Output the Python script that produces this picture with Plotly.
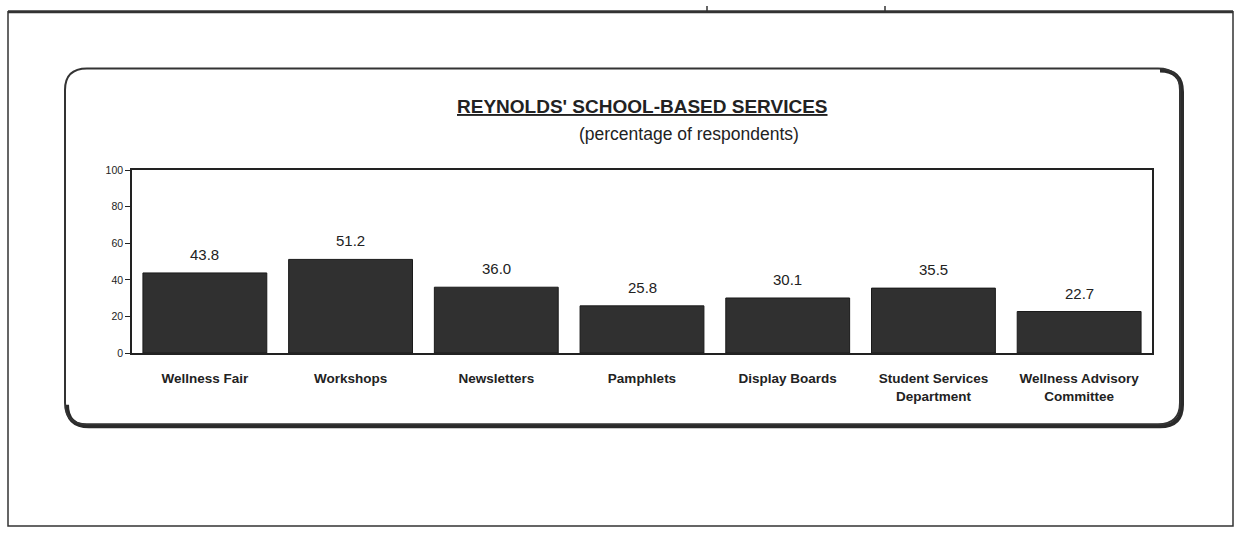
import plotly.graph_objects as go

# Survey results
categories = ["Wellness Fair", "Workshops", "Newsletters", "Pamphlets",
              "Display Boards", "Student Services<br>Department",
              "Wellness Advisory<br>Committee"]
values = [43.8, 51.2, 36.0, 25.8, 30.1, 35.5, 22.7]
y_ticks = [0, 20, 40, 60, 80, 100]

W, H = 1238, 533
FONT = "Arial, Liberation Sans, sans-serif"


def px(x):
    return x / W


def py(y):
    return 1 - y / H


def rounded_rect(x0, y0, x1, y1, r):
    pts = [
        f"M {px(x0 + r)},{py(y0)}",
        f"L {px(x1 - r)},{py(y0)}",
        f"Q {px(x1)},{py(y0)} {px(x1)},{py(y0 + r)}",
        f"L {px(x1)},{py(y1 - r)}",
        f"Q {px(x1)},{py(y1)} {px(x1 - r)},{py(y1)}",
        f"L {px(x0 + r)},{py(y1)}",
        f"Q {px(x0)},{py(y1)} {px(x0)},{py(y1 - r)}",
        f"L {px(x0)},{py(y0 + r)}",
        f"Q {px(x0)},{py(y0)} {px(x0 + r)},{py(y0)}",
        "Z",
    ]
    return " ".join(pts)


def shadow_edge(x0, y0, x1, y1, r, d):
    # right and bottom sides of the panel, shifted to form a drop shadow
    x0, y0, x1, y1 = x0 + d, y0 + d, x1 + d, y1 + d
    pts = [
        f"M {px(x1 - r)},{py(y0)}",
        f"Q {px(x1)},{py(y0)} {px(x1)},{py(y0 + r)}",
        f"L {px(x1)},{py(y1 - r)}",
        f"Q {px(x1)},{py(y1)} {px(x1 - r)},{py(y1)}",
        f"L {px(x0 + r)},{py(y1)}",
        f"Q {px(x0)},{py(y1)} {px(x0)},{py(y1 - r)}",
    ]
    return " ".join(pts)


fig = go.Figure()
fig.add_trace(go.Bar(
    x=categories, y=values,
    marker=dict(color="#303030", line=dict(color="#1a1a1a", width=1)),
    width=0.85, hoverinfo="x+y",
))

annotations = [
    dict(x=c, y=v, xref="x", yref="y", text=f"{v:.1f}", showarrow=False,
         yanchor="bottom", yshift=8, font=dict(family=FONT, size=15, color="#222"))
    for c, v in zip(categories, values)
]
annotations += [
    dict(x=px(642), y=py(103), xref="paper", yref="paper",
         xanchor="center", yanchor="middle",
         text="<b><u>REYNOLDS' SCHOOL-BASED SERVICES</u></b>", showarrow=False,
         font=dict(family=FONT, size=19, color="#222")),
    dict(x=px(689), y=py(131), xref="paper", yref="paper",
         xanchor="center", yanchor="middle",
         text="(percentage of respondents)", showarrow=False,
         font=dict(family=FONT, size=17.5, color="#222")),
]

shapes = [
    # outer page frame
    dict(type="rect", xref="paper", yref="paper", x0=px(8), x1=px(1233),
         y0=py(532), y1=py(6), line=dict(color="#333", width=1.5)),
    dict(type="line", xref="paper", yref="paper", x0=px(8), x1=px(1233),
         y0=py(6), y1=py(6), line=dict(color="#333", width=3)),
    dict(type="line", xref="paper", yref="paper", x0=px(707), x1=px(707),
         y0=py(0), y1=py(6), line=dict(color="#333", width=1.5)),
    dict(type="line", xref="paper", yref="paper", x0=px(885), x1=px(885),
         y0=py(0), y1=py(6), line=dict(color="#333", width=1.5)),
    # rounded panel with drop shadow
    dict(type="path", xref="paper", yref="paper",
         path=shadow_edge(65, 64, 1180, 428, 22, 2), line=dict(color="#2a2a2a", width=4)),
    dict(type="path", xref="paper", yref="paper",
         path=rounded_rect(65, 64, 1180, 428, 22), line=dict(color="#333", width=2)),
]

fig.update_layout(
    width=W, height=H,
    margin=dict(l=0, r=0, t=0, b=0),
    paper_bgcolor="white", plot_bgcolor="white",
    showlegend=False, bargap=0.15,
    annotations=annotations, shapes=shapes,
    xaxis=dict(domain=[px(132), px(1152)], showline=True, linecolor="#222",
               linewidth=1.5, mirror=True, ticks="", ticklabelstandoff=12,
               tickfont=dict(family=FONT, size=13.5, color="#222"),
               tickvals=categories,
               ticktext=[f"<b>{c}</b>" for c in categories],
               fixedrange=True),
    yaxis=dict(domain=[py(355), py(168)], range=[0, 100], tickvals=y_ticks,
               showline=True, linecolor="#222", linewidth=1.5, mirror=True,
               ticks="outside", ticklen=5, tickcolor="#222", showgrid=False,
               zeroline=False, tickfont=dict(family=FONT, size=10.5, color="#222"),
               fixedrange=True),
)

fig.write_html("out.html")
